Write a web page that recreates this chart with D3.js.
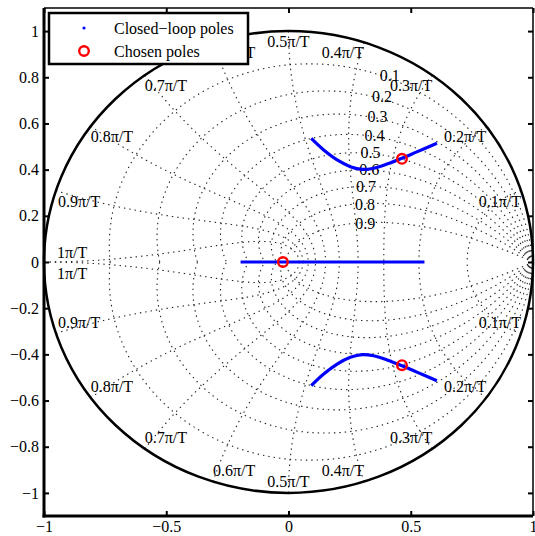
<!DOCTYPE html>
<html>
<head>
<meta charset="utf-8">
<script src="https://cdn.jsdelivr.net/npm/d3@7"></script>
<style>
  body { margin: 0; background: #fff; }
  text { font-family: "Liberation Serif", "Times New Roman", serif; font-size: 16px; fill: #000; }
</style>
</head>
<body>
<svg id="chart" width="535" height="536"></svg>
<script>
// axis ticks
var xTicks = [-1, -0.5, 0, 0.5, 1];
var yTicks = [-1, -0.8, -0.6, -0.4, -0.2, 0, 0.2, 0.4, 0.6, 0.8, 1];

// zgrid values
var zetaValues = [0.1, 0.2, 0.3, 0.4, 0.5, 0.6, 0.7, 0.8, 0.9];
var zetaLabelTheta = [1.139, 1.127, 1.097, 1.056, 1.014, 0.943, 0.868, 0.745, 0.551];
var wnValues = [0.1, 0.2, 0.3, 0.4, 0.5, 0.6, 0.7, 0.8, 0.9, 1];

// root locus, upper branch (lower is its conjugate)
var branchX = [0.093, 0.144, 0.199, 0.253, 0.301, 0.348, 0.403, 0.464, 0.525, 0.607];
var branchY = [0.535, 0.485, 0.442, 0.413, 0.401, 0.406, 0.424, 0.449, 0.477, 0.514];
// real axis branch
var realBranchX = [-0.196, 0.556];

// chosen poles
var chosenX = [0.464, 0.464, -0.023];
var chosenY = [0.447, -0.447, 0];

var legendLabels = ["Closed\u2212loop poles", "Chosen poles"];

var svg = d3.select("#chart");
var pLeft = 44, pRight = 533, pTop = 8, pBottom = 516;

var x = d3.scaleLinear().domain([-1, 1]).range([pLeft, pRight]);
var y = d3.scaleLinear().domain([-1.1, 1.1]).range([pBottom, pTop]);

function fmt(d) { return String(d).replace("-", "\u2212"); }

var line = d3.line().x(function(d) { return x(d[0]); }).y(function(d) { return y(d[1]); });

var grid = svg.append("g").attr("class", "grid")
    .attr("fill", "none").attr("stroke", "#222")
    .attr("stroke-width", 1.1).attr("stroke-dasharray", "1.4,4");

// damping ratio lines
zetaValues.forEach(function(z) {
    var m = Math.tan(Math.asin(z));
    [1, -1].forEach(function(s) {
        var pts = d3.range(0, 201).map(function(i) {
            var t = Math.PI * i / 200, r = Math.exp(-m * t);
            return [r * Math.cos(t), s * r * Math.sin(t)];
        });
        grid.append("path").attr("d", line(pts));
    });
});

// natural frequency lines
wnValues.forEach(function(k) {
    var wn = k * Math.PI;
    [1, -1].forEach(function(s) {
        var pts = d3.range(0, 201).map(function(i) {
            var zt = i / 200, r = Math.exp(-zt * wn), t = wn * Math.sqrt(1 - zt * zt);
            return [r * Math.cos(t), s * r * Math.sin(t)];
        });
        grid.append("path").attr("d", line(pts));
    });
});

// damping labels
zetaValues.forEach(function(z, i) {
    var m = Math.tan(Math.asin(z)), t = zetaLabelTheta[i], r = Math.exp(-m * t);
    svg.append("text")
        .attr("x", x(r * Math.cos(t)))
        .attr("y", y(r * Math.sin(t)))
        .attr("dy", "0.35em")
        .text(String(z));
});

// frequency labels
wnValues.forEach(function(k) {
    var a = k * Math.PI, c = Math.cos(a), sn = Math.sin(a);
    [1, -1].forEach(function(s) {
        var anchor = Math.abs(c) < 0.05 ? "middle" : (c > 0 ? "end" : "start");
        var dx = 0, dy = s > 0 ? 16 : -5.5;
        if (Math.abs(sn) < 0.05) { dx = 13; dy = s > 0 ? -4.5 : 16.5; }
        else if (c < -0.9) { dx = 2; }
        svg.append("text")
            .attr("x", x(c) + dx)
            .attr("y", y(s * sn) + dy)
            .attr("text-anchor", anchor)
            .text(fmt(k) + "\u03c0/T");
    });
});

// unit circle
svg.append("ellipse")
    .attr("cx", x(0)).attr("cy", y(0))
    .attr("rx", x(1) - x(0)).attr("ry", y(0) - y(1))
    .attr("fill", "none").attr("stroke", "#000").attr("stroke-width", 2.5);

// root locus
var upper = branchX.map(function(v, i) { return [v, branchY[i]]; });
var lower = branchX.map(function(v, i) { return [v, -branchY[i]]; });
var curve = d3.line().x(function(d) { return x(d[0]); }).y(function(d) { return y(d[1]); })
    .curve(d3.curveCatmullRom);
[upper, lower, realBranchX.map(function(v) { return [v, 0]; })].forEach(function(b) {
    svg.append("path").attr("d", curve(b))
        .attr("fill", "none").attr("stroke", "#0000ff").attr("stroke-width", 3.2);
});

// chosen poles
svg.selectAll(".chosen").data(chosenX).enter().append("circle")
    .attr("class", "chosen")
    .attr("cx", function(d) { return x(d); })
    .attr("cy", function(d, i) { return y(chosenY[i]); })
    .attr("r", 4.8)
    .attr("fill", "none").attr("stroke", "#ff0000").attr("stroke-width", 2.4);

// axes
var ax = svg.append("g");
ax.append("g").attr("transform", "translate(0," + pBottom + ")")
    .call(d3.axisBottom(x).tickValues(xTicks).tickSizeInner(-5).tickSizeOuter(0).tickPadding(5).tickFormat(fmt));
ax.append("g").attr("transform", "translate(" + pLeft + ",0)")
    .call(d3.axisLeft(y).tickValues(yTicks).tickSizeInner(-5).tickSizeOuter(0).tickPadding(5).tickFormat(fmt));
ax.append("g").attr("transform", "translate(0," + pTop + ")")
    .call(d3.axisTop(x).tickValues(xTicks).tickSizeInner(-5).tickSizeOuter(0).tickFormat(""));
ax.append("g").attr("transform", "translate(" + pRight + ",0)")
    .call(d3.axisRight(y).tickValues(yTicks).tickSizeInner(-5).tickSizeOuter(0).tickFormat(""));
ax.selectAll(".domain").remove();
ax.selectAll(".tick line").attr("stroke", "#000").attr("stroke-width", 2);
ax.selectAll(".tick text").style("font-family", "Liberation Serif, serif").style("font-size", "16px");

svg.append("line").attr("x1", pLeft).attr("x2", pLeft).attr("y1", pTop).attr("y2", pBottom + 1.5)
    .attr("stroke", "#000").attr("stroke-width", 3);
svg.append("line").attr("x1", pLeft - 1.5).attr("x2", pRight).attr("y1", pBottom).attr("y2", pBottom)
    .attr("stroke", "#000").attr("stroke-width", 3);
svg.append("line").attr("x1", pLeft).attr("x2", pRight).attr("y1", pTop).attr("y2", pTop)
    .attr("stroke", "#000").attr("stroke-width", 1.5);
svg.append("line").attr("x1", pRight).attr("x2", pRight).attr("y1", pTop).attr("y2", pBottom)
    .attr("stroke", "#000").attr("stroke-width", 1.5);

// legend
var lg = svg.append("g");
lg.append("rect").attr("x", 49).attr("y", 13).attr("width", 199).attr("height", 51)
    .attr("fill", "#fff").attr("stroke", "#000").attr("stroke-width", 2.5);
lg.append("circle").attr("cx", 84).attr("cy", 28).attr("r", 1.6).attr("fill", "#0000ff");
lg.append("circle").attr("cx", 84).attr("cy", 51).attr("r", 4.8)
    .attr("fill", "none").attr("stroke", "#ff0000").attr("stroke-width", 2.4);
lg.selectAll("text.lab").data(legendLabels).enter().append("text")
    .attr("class", "lab")
    .attr("x", 114)
    .attr("y", function(d, i) { return 28 + i * 23; })
    .attr("dy", "0.35em")
    .text(function(d) { return d; });
</script>
</body>
</html>
